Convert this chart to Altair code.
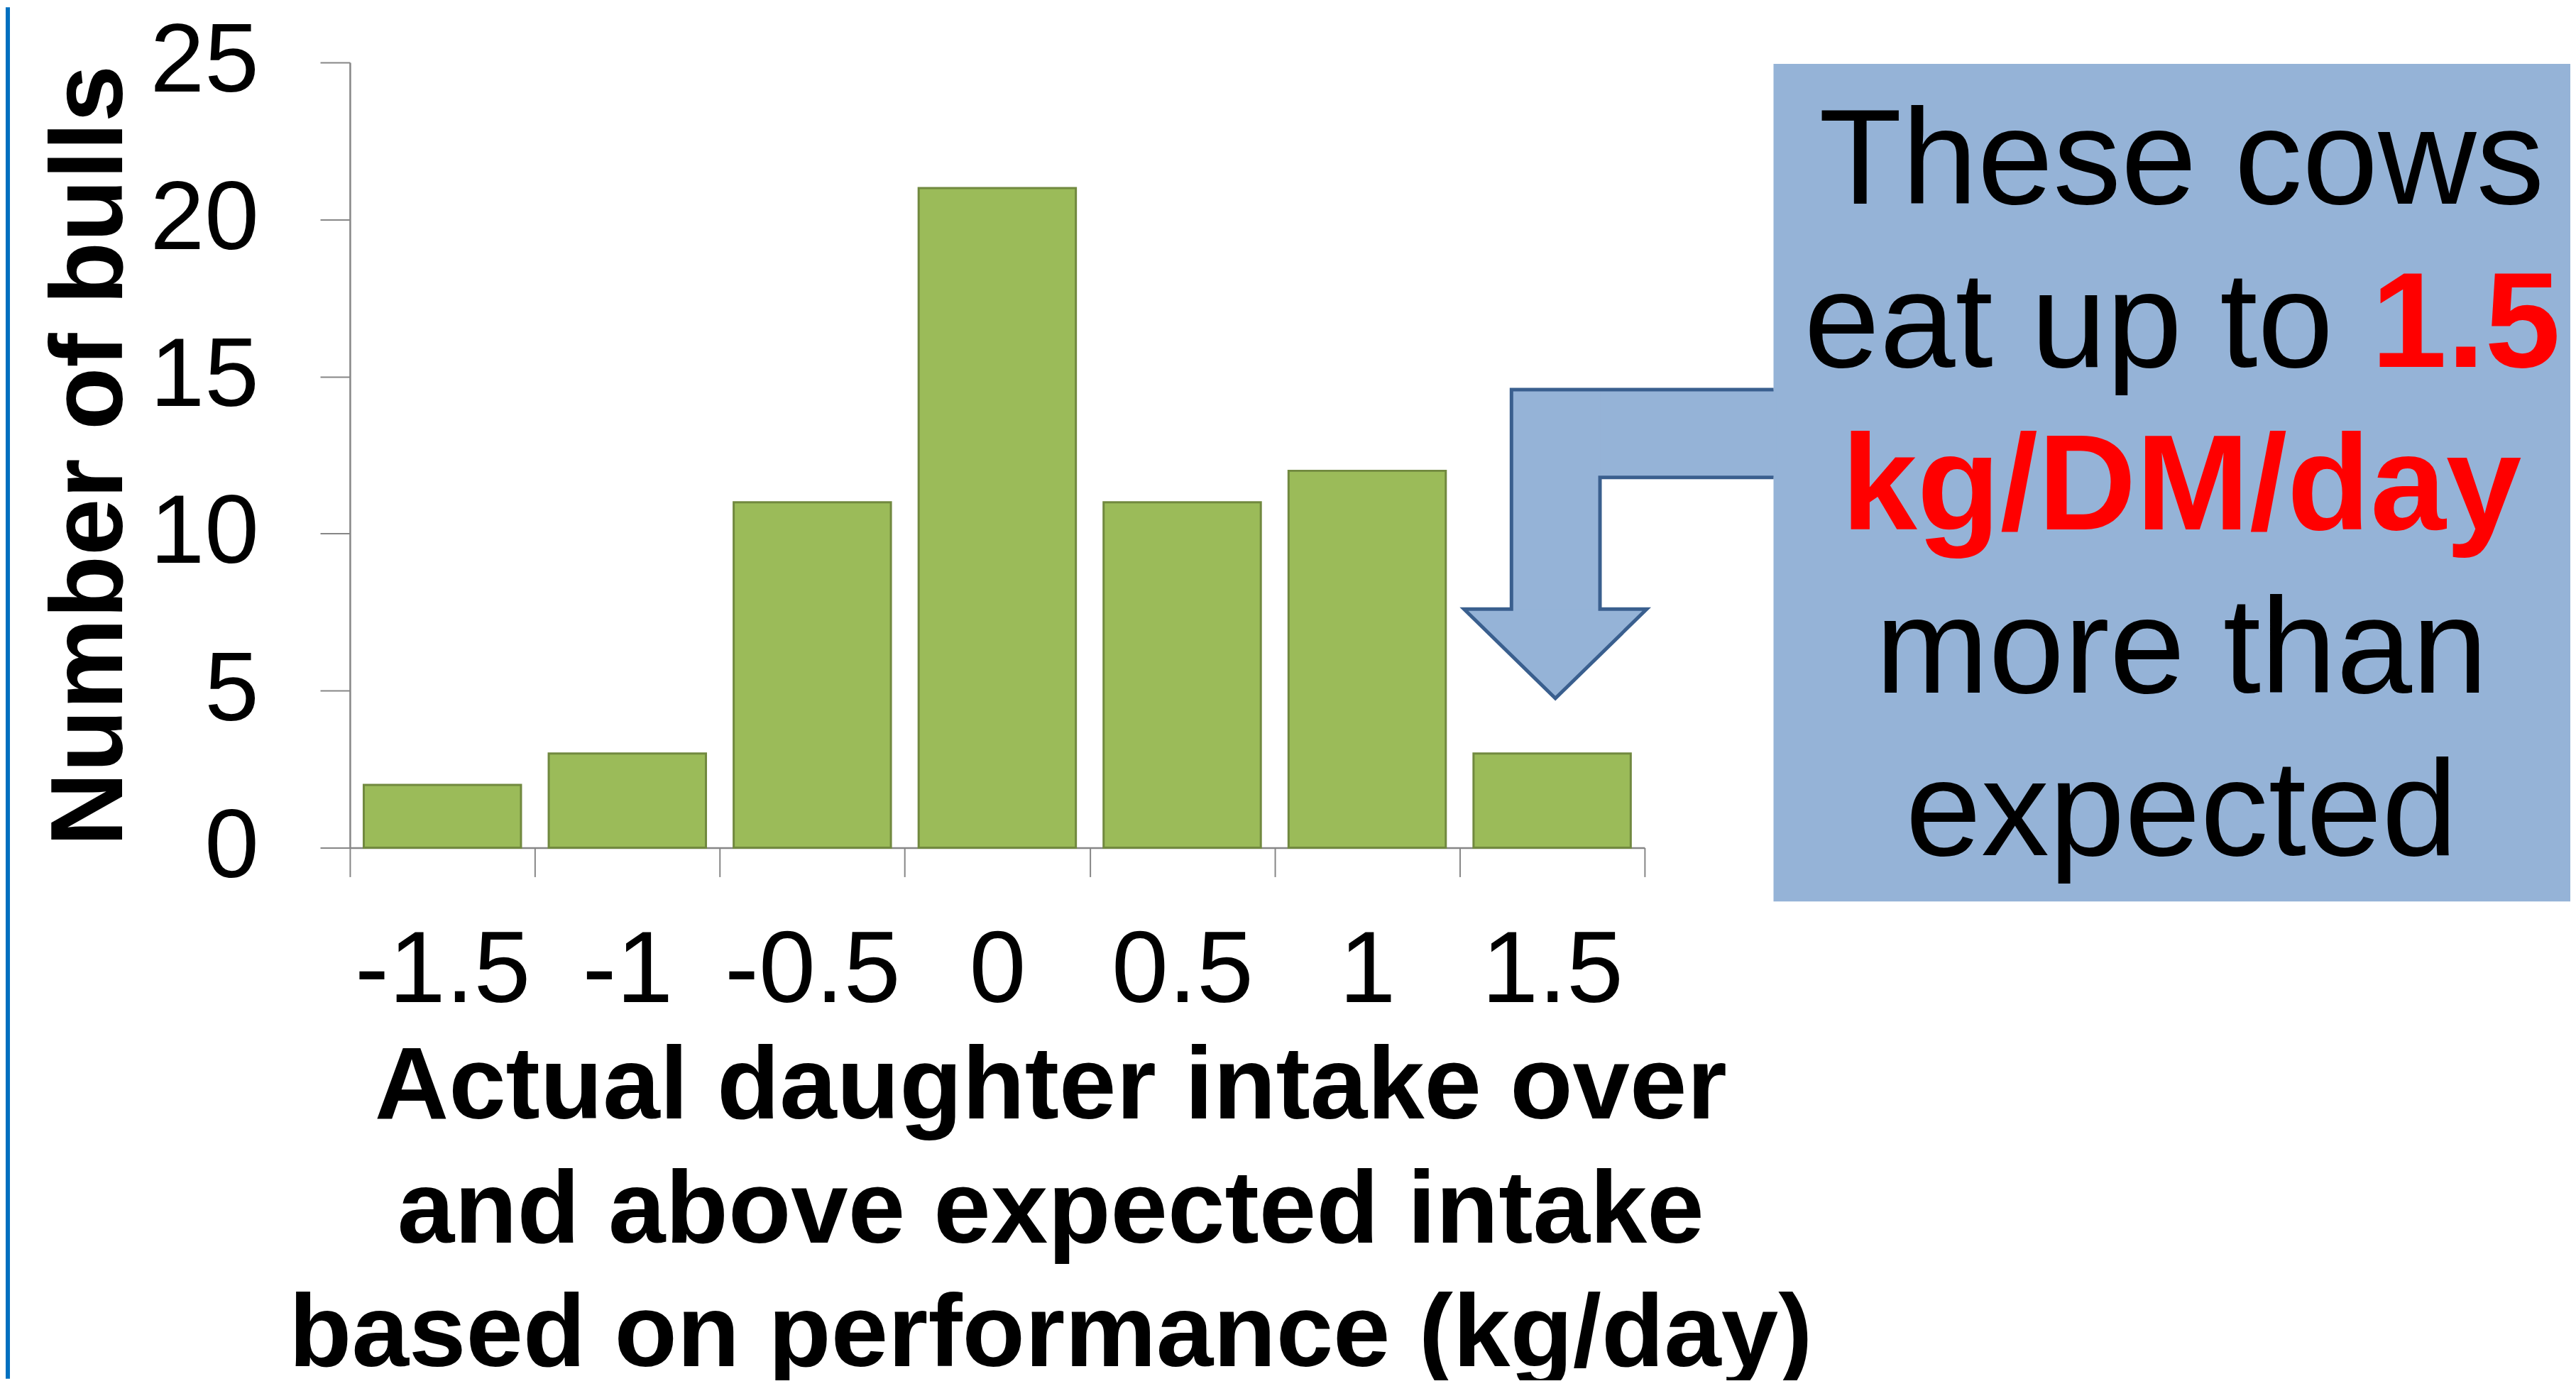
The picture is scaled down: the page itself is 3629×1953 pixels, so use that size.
import altair as alt
import pandas as pd

# ---------------- data ----------------
categories = ["-1.5", "-1", "-0.5", "0", "0.5", "1", "1.5"]
counts = [2, 3, 11, 21, 11, 12, 3]
y_ticks = [0, 5, 10, 15, 20, 25]

x_title = ["Actual daughter intake over", "and above expected intake",
           "based on performance (kg/day)"]
y_title = "Number of bulls"

box_lines_plain = ["These cows", "more than", "expected"]
box_line2_black = "eat up to "
box_line2_red = "1.5"
box_line3_red = "kg/DM/day"

FONT = "Liberation Sans, Arial, Helvetica, sans-serif"

# ---------------- layout (pixels) ----------------
W, H = 1828, 1109          # plot area
PAD_L, PAD_T = 486, 78
TOTAL_W, TOTAL_H = 3621, 1937
PAD_R = TOTAL_W - PAD_L - W
PAD_B = TOTAL_H - PAD_T - H

BOX_FILL = "#95B3D7"
ARROW_STROKE = "#3A5F8E"

df = pd.DataFrame({"cat": categories, "n": counts})
one = pd.DataFrame({"k": [0]})

bars = alt.Chart(df).mark_bar(
    fill="#9BBB59", stroke="#71893F", strokeWidth=3,
    width=alt.RelativeBandSize(0.85)
).encode(
    x=alt.X("cat:N", sort=categories,
            scale=alt.Scale(paddingInner=0, paddingOuter=0),
            axis=alt.Axis(
                title=x_title, tickBand="extent", labelAngle=0,
                labelFontSize=144, labelFont=FONT, labelColor="black",
                labelBaseline="alphabetic", labelPadding=176, labelLimit=0,
                tickSize=41, tickColor="#868686", tickWidth=2,
                domainColor="#868686", domainWidth=2.5,
                titleFont=FONT, titleFontSize=145, titleFontWeight="bold",
                titleColor="black", titleX=989, titleY=382,
                titleAlign="center", titleBaseline="alphabetic",
                titleLineHeight=175, labelOverlap=False, grid=False,
                titleLimit=0)),
    y=alt.Y("n:Q", scale=alt.Scale(domain=[0, 25], nice=False),
            axis=alt.Axis(
                values=y_ticks, title=y_title, grid=False,
                labelFontSize=138, labelFont=FONT, labelColor="black",
                labelBaseline="middle", labelPadding=87, labelFlush=False,
                labelOverlap=False, labelLimit=0,
                tickSize=42, tickColor="#868686", tickWidth=2,
                domainColor="#868686", domainWidth=2.5,
                titleFont=FONT, titleFontSize=145, titleFontWeight="bold",
                titleColor="black", titleX=-322, titleY=555,
                titleAngle=-90, titleAlign="center",
                titleBaseline="alphabetic", titleLimit=0)),
)

# annotation box
box = alt.Chart(one).mark_rect(fill=BOX_FILL).encode(
    x=alt.value(2010), x2=alt.value(W + PAD_R), y=alt.value(2), y2=alt.value(1185)
)

# arrow body pieces
shaft_h = alt.Chart(one).mark_rect(fill=BOX_FILL).encode(
    x=alt.value(1640), x2=alt.value(2014), y=alt.value(462), y2=alt.value(586)
)
shaft_v = alt.Chart(one).mark_rect(fill=BOX_FILL).encode(
    x=alt.value(1640), x2=alt.value(1765), y=alt.value(462), y2=alt.value(774)
)
head_df = pd.DataFrame({"px": [1573, 1702, 1831], "top": [772, 772, 772],
                        "bot": [772, 898, 772]})
head = alt.Chart(head_df).mark_area(fill=BOX_FILL, opacity=1).encode(
    x=alt.X("px:Q", scale=None, axis=None),
    y=alt.Y("top:Q", scale=None, axis=None),
    y2="bot:Q",
)
outline_df = pd.DataFrame({
    "i": list(range(9)),
    "px": [2010, 1640, 1640, 1573, 1702, 1831, 1765, 1765, 2010],
    "py": [462, 462, 772, 772, 898, 772, 772, 586, 586],
})
outline = alt.Chart(outline_df).mark_line(
    stroke=ARROW_STROKE, strokeWidth=5, strokeJoin="miter"
).encode(
    x=alt.X("px:Q", scale=None, axis=None),
    y=alt.Y("py:Q", scale=None, axis=None),
    order="i:Q",
)

# box text
TX = 2586
def txt(s, x, y, color="black", bold=False, align="center"):
    return alt.Chart(one).mark_text(
        font=FONT, fontSize=192, color=color,
        fontWeight="bold" if bold else "normal",
        align=align, baseline="alphabetic", limit=0
    ).encode(x=alt.value(x), y=alt.value(y), text=alt.value(s))

texts = [
    txt(box_lines_plain[0], TX, 199),
    txt(box_line2_black, 2053, 430, align="left"),
    txt(box_line2_red, 2854, 430, color="#FF0000", bold=True, align="left"),
    txt(box_line3_red, TX, 659, color="#FF0000", bold=True),
    txt(box_lines_plain[1], TX, 890),
    txt(box_lines_plain[2], TX, 1120),
]

border = alt.Chart(one).mark_rule(color="#0070C0", strokeWidth=6).encode(
    x=alt.value(-PAD_L + 3), y=alt.value(-PAD_T), y2=alt.value(H + PAD_B)
)

chart = alt.layer(
    border, bars, box, shaft_h, shaft_v, head, outline, *texts
).resolve_scale(x="independent", y="independent").properties(
    width=W, height=H,
    autosize=alt.AutoSizeParams(type="none"),
    padding={"left": PAD_L, "top": PAD_T, "right": PAD_R, "bottom": PAD_B},
    background="white",
).configure_view(stroke=None)

chart.save("out.html", embed_options={"renderer": "svg", "actions": False})
